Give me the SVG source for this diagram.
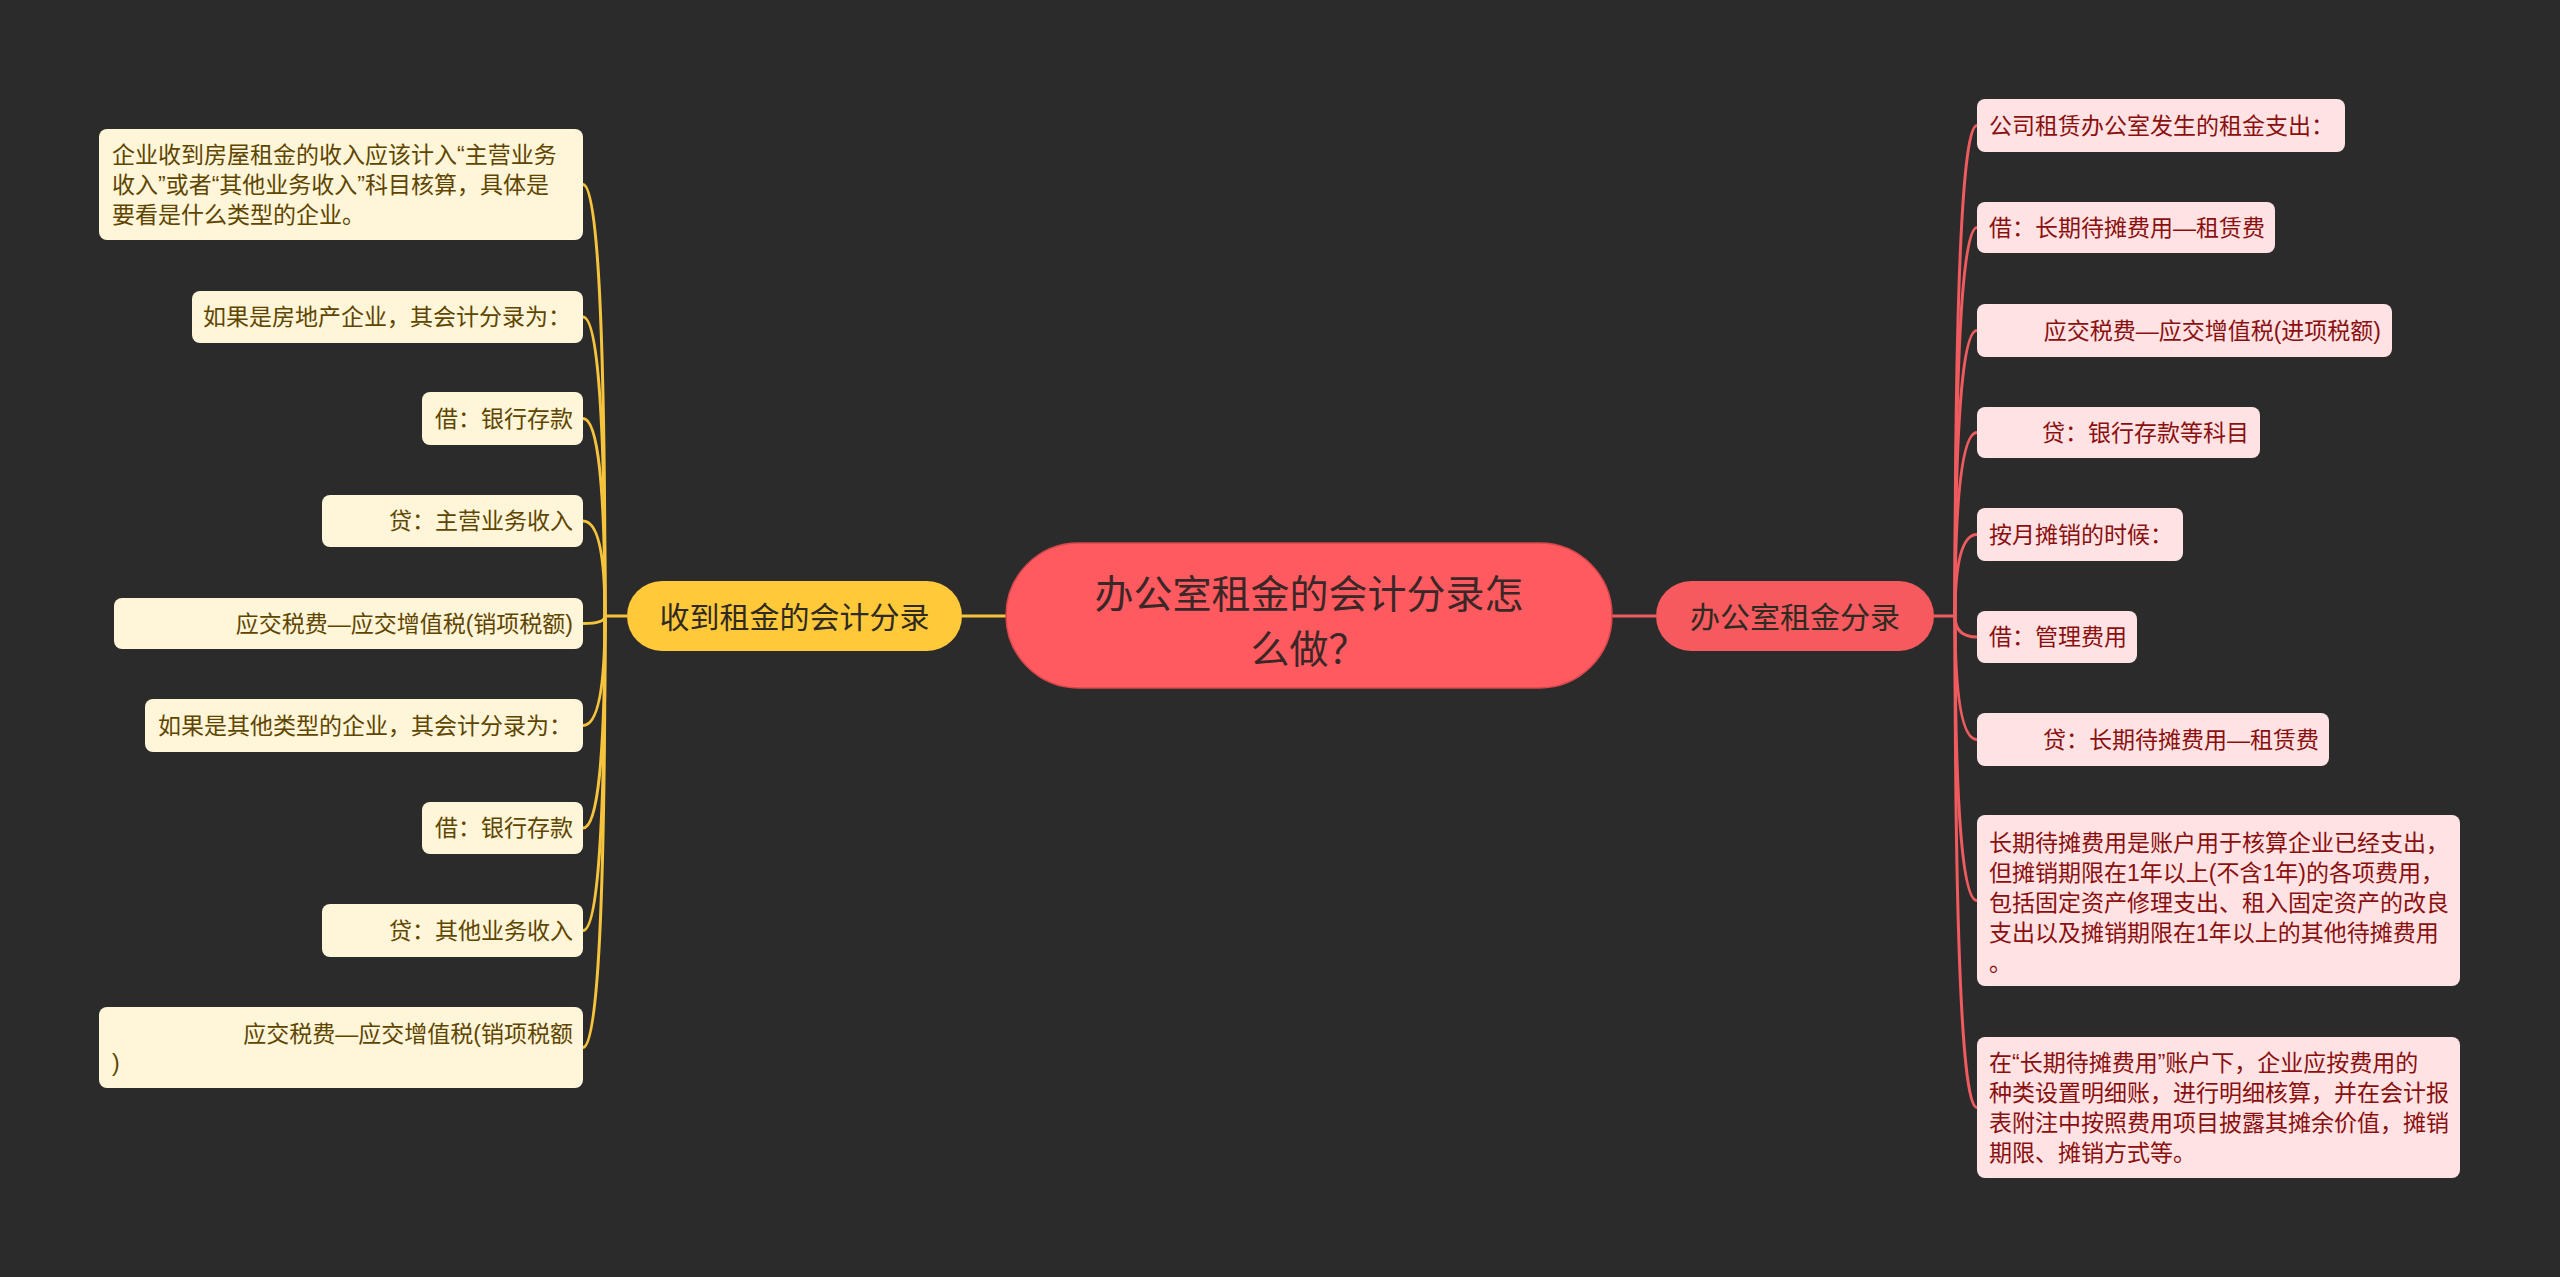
<svg xmlns="http://www.w3.org/2000/svg" width="2560" height="1277" viewBox="0 0 2560 1277">
<style>
text{font-family:'Liberation Sans','Noto Sans CJK SC',sans-serif;}
.bg{fill:#2b2b2b;}
.ly{fill:#fff5d8;}
.lyt{fill:#5e4500;font-size:23px;}
.lr{fill:#ffe2e3;}
.lrt{fill:#8a1010;font-size:23px;}
.cy{fill:none;stroke:#f6c43c;stroke-width:3;}
.cr{fill:none;stroke:#ef5b5f;stroke-width:3;}
.main{fill:#ff5a5f;stroke:#d9474c;stroke-width:1.5;}
.maint{fill:#3b2727;font-size:39px;}
.by{fill:#ffc93a;}
.br{fill:#f65a5e;}
.bt{fill:#2f2a22;font-size:30px;}
</style>
<rect class="bg" x="0" y="0" width="2560" height="1277"/>
<g id="connectors">
<path class="cy" d="M1006 616 L962 616 M627 616 L605 616" stroke-width="3.5"/>
<path class="cy" d="M605 616 Q605 184.5 583 184.5"/>
<path class="cy" d="M605 616 Q605 317 583 317"/>
<path class="cy" d="M605 616 Q605 418.5 583 418.5"/>
<path class="cy" d="M605 616 Q605 521 583 521"/>
<path class="cy" d="M605 616 Q605 623.5 583 623.5"/>
<path class="cy" d="M605 616 Q605 725.5 583 725.5"/>
<path class="cy" d="M605 616 Q605 828 583 828"/>
<path class="cy" d="M605 616 Q605 930.5 583 930.5"/>
<path class="cy" d="M605 616 Q605 1047.5 583 1047.5"/>
<path class="cr" d="M1612 616 L1656 616 M1934 616 L1955 616" stroke-width="3.5"/>
<path class="cr" d="M1955 616 Q1955 125.5 1977 125.5"/>
<path class="cr" d="M1955 616 Q1955 227.5 1977 227.5"/>
<path class="cr" d="M1955 616 Q1955 330.5 1977 330.5"/>
<path class="cr" d="M1955 616 Q1955 432.5 1977 432.5"/>
<path class="cr" d="M1955 616 Q1955 534.5 1977 534.5"/>
<path class="cr" d="M1955 616 Q1955 637 1977 637"/>
<path class="cr" d="M1955 616 Q1955 739.5 1977 739.5"/>
<path class="cr" d="M1955 616 Q1955 900.5 1977 900.5"/>
<path class="cr" d="M1955 616 Q1955 1107.5 1977 1107.5"/>
</g>
<g id="root">
<rect class="main" x="1006" y="543" width="606" height="145" rx="72.5"/>
<text class="maint" x="1309" y="608" text-anchor="middle">办公室租金的会计分录怎</text>
<text class="maint" x="1309" y="663" text-anchor="middle">么做？</text>
</g>
<g id="branch-left">
<rect class="by" x="627" y="581" width="335" height="70" rx="35"/>
<text class="bt" x="794.5" y="628" text-anchor="middle">收到租金的会计分录</text>
</g>
<g id="branch-right">
<rect class="br" x="1656" y="581" width="278" height="70" rx="35"/>
<text class="bt" x="1795" y="628" text-anchor="middle">办公室租金分录</text>
</g>
<g id="L1"><rect class="ly" x="99" y="129" width="484" height="111" rx="8"/>
<text class="lyt" x="112" y="163">企业收到房屋租金的收入应该计入“主营业务</text>
<text class="lyt" x="112" y="193">收入”或者“其他业务收入”科目核算，具体是</text>
<text class="lyt" x="112" y="223">要看是什么类型的企业。</text></g>
<g id="L2"><rect class="ly" x="192" y="291" width="391" height="52" rx="8"/>
<text class="lyt" x="203" y="325">如果是房地产企业，其会计分录为：</text></g>
<g id="L3"><rect class="ly" x="422" y="392" width="161" height="53" rx="8"/>
<text class="lyt" x="435" y="427">借：银行存款</text></g>
<g id="L4"><rect class="ly" x="322" y="495" width="261" height="52" rx="8"/>
<text class="lyt" x="573" y="529" text-anchor="end">贷：主营业务收入</text></g>
<g id="L5"><rect class="ly" x="114" y="598" width="469" height="51" rx="8"/>
<text class="lyt" x="573" y="631.5" text-anchor="end">应交税费—应交增值税(销项税额)</text></g>
<g id="L6"><rect class="ly" x="145" y="699" width="438" height="53" rx="8"/>
<text class="lyt" x="158" y="733.5">如果是其他类型的企业，其会计分录为：</text></g>
<g id="L7"><rect class="ly" x="422" y="802" width="161" height="52" rx="8"/>
<text class="lyt" x="435" y="836">借：银行存款</text></g>
<g id="L8"><rect class="ly" x="322" y="904" width="261" height="53" rx="8"/>
<text class="lyt" x="573" y="938.5" text-anchor="end">贷：其他业务收入</text></g>
<g id="L9"><rect class="ly" x="99" y="1007" width="484" height="81" rx="8"/>
<text class="lyt" x="573" y="1042" text-anchor="end">应交税费—应交增值税(销项税额</text>
<text class="lyt" x="112" y="1071">)</text></g>
<g id="R1"><rect class="lr" x="1977" y="99" width="368" height="53" rx="8"/>
<text class="lrt" x="1989" y="133.5">公司租赁办公室发生的租金支出：</text></g>
<g id="R2"><rect class="lr" x="1977" y="202" width="298" height="51" rx="8"/>
<text class="lrt" x="1989" y="235.5">借：长期待摊费用—租赁费</text></g>
<g id="R3"><rect class="lr" x="1977" y="304" width="415" height="53" rx="8"/>
<text class="lrt" x="2381" y="338.5" text-anchor="end">应交税费—应交增值税(进项税额)</text></g>
<g id="R4"><rect class="lr" x="1977" y="407" width="283" height="51" rx="8"/>
<text class="lrt" x="2249" y="440.5" text-anchor="end">贷：银行存款等科目</text></g>
<g id="R5"><rect class="lr" x="1977" y="508" width="206" height="53" rx="8"/>
<text class="lrt" x="1989" y="542.5">按月摊销的时候：</text></g>
<g id="R6"><rect class="lr" x="1977" y="611" width="160" height="52" rx="8"/>
<text class="lrt" x="1989" y="645">借：管理费用</text></g>
<g id="R7"><rect class="lr" x="1977" y="713" width="352" height="53" rx="8"/>
<text class="lrt" x="2319" y="747.5" text-anchor="end">贷：长期待摊费用—租赁费</text></g>
<g id="R8"><rect class="lr" x="1977" y="815" width="483" height="171" rx="8"/>
<text class="lrt" x="1989" y="851">长期待摊费用是账户用于核算企业已经支出，</text>
<text class="lrt" x="1989" y="881">但摊销期限在1年以上(不含1年)的各项费用，</text>
<text class="lrt" x="1989" y="911">包括固定资产修理支出、租入固定资产的改良</text>
<text class="lrt" x="1989" y="941">支出以及摊销期限在1年以上的其他待摊费用</text>
<text class="lrt" x="1989" y="971">。</text></g>
<g id="R9"><rect class="lr" x="1977" y="1037" width="483" height="141" rx="8"/>
<text class="lrt" x="1989" y="1071">在“长期待摊费用”账户下，企业应按费用的</text>
<text class="lrt" x="1989" y="1101">种类设置明细账，进行明细核算，并在会计报</text>
<text class="lrt" x="1989" y="1131">表附注中按照费用项目披露其摊余价值，摊销</text>
<text class="lrt" x="1989" y="1161">期限、摊销方式等。</text></g>
</svg>
